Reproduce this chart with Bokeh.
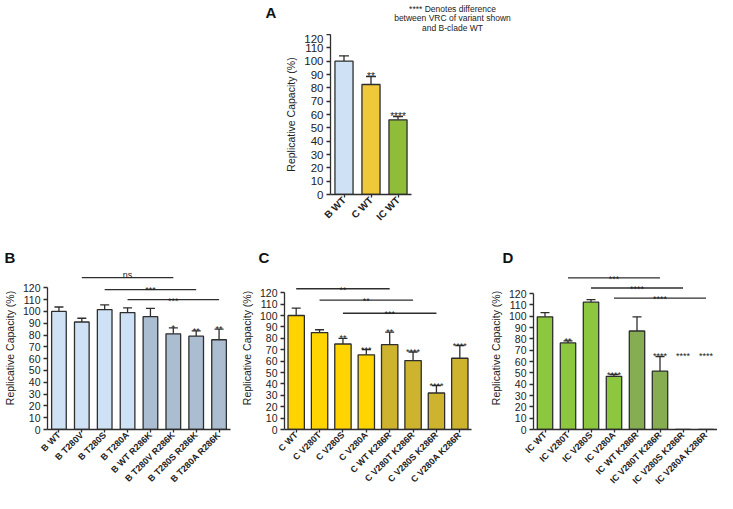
import numpy as np
from bokeh.plotting import figure
from bokeh.models import (ColumnDataSource, FactorRange, Range1d, FixedTicker,
                          Whisker, TeeHead, CanvasTexture)
from bokeh.layouts import column, row
from bokeh.core.properties import value
from bokeh.embed import file_html
from bokeh.resources import INLINE

FONT = "Liberation Sans"

# ---------------- data ----------------
a_cats = ["B WT", "C WT", "IC WT"]
a_vals = [100, 82.5, 56]
a_errs = [4, 6, 2.5]
a_stars = ["", "**", "****"]
a_note = ["**** Denotes difference", "between VRC of variant shown",
          "and B-clade WT"]

b_cats = ["B WT", "B T280V", "B T280S", "B T280A", "B WT R286K",
          "B T280V R286K", "B T280S R286K", "B T280A R286K"]
b_vals = [100, 91, 101.5, 99, 95.5, 81, 79, 76]
b_errs = [3.7, 3.2, 4, 4, 7, 5, 4.5, 9]
b_stars = ["", "", "", "", "", "*", "**", "**"]
b_br_from = [1, 2, 3]
b_br_to = [5, 6, 7]
b_br_y = [128.5, 118.5, 110]
b_br_text = ["ns", "***", "***"]

c_cats = ["C WT", "C V280T", "C V280S", "C V280A", "C WT K286R",
          "C V280T K286R", "C V280S K286R", "C V280A K286R"]
c_vals = [100, 85, 75, 65.5, 74.5, 60.5, 32, 62.5]
c_errs = [6.5, 2.5, 5, 4.5, 11, 7.5, 6.5, 11]
c_stars = ["", "", "**", "***", "**", "****", "****", "****"]
c_br_from = [0, 1, 2]
c_br_to = [4, 5, 6]
c_br_y = [123.5, 113.5, 102]
c_br_text = ["**", "**", "***"]

d_cats = ["IC WT", "IC V280T", "IC V280S", "IC V280A", "IC WT K286R",
          "IC V280T K286R", "IC V280S K286R", "IC V280A K286R"]
d_vals = [99.5, 76.5, 112.5, 47, 87, 51.5, 0, 0]
d_errs = [3.8, 1.8, 2.2, 1.5, 12.5, 13, 0, 0]
d_stars = ["", "**", "", "****", "", "****", "****", "****"]
d_br_from = [1, 2, 3]
d_br_to = [5, 6, 7]
d_br_y = [134, 125, 116]
d_br_text = ["***", "****", "****"]
d_missing_star_level = 64.5

y_ticks = list(range(0, 121, 10))
panel_letters = ["A", "B", "C", "D"]


def checker(base, grey):
    code = ("var s=ctx.canvas.width;var h=s/2;"
            f"ctx.fillStyle='{base}';ctx.fillRect(0,0,s,s);"
            f"ctx.fillStyle='{grey}';ctx.fillRect(0,0,h,h);ctx.fillRect(h,h,h,h);")
    return CanvasTexture(code=code, repetition="repeat")


def blank(w, h):
    p = figure(width=w, height=h, x_range=Range1d(0, w), y_range=Range1d(0, h),
               x_axis_location=None, y_axis_location=None,
               toolbar_location=None, output_backend="svg", min_border=0)
    p.outline_line_color = None
    p.grid.visible = False
    return p


def panel(cats, vals, errs, stars, colors, checks, n_plain, width, height,
          ml, mr, mt, mb, ytop, bar_w, tick_fs, title_fs, xlab_fs, star_fs,
          head, star_y=None, brackets=None, letter=None, letter_dx=0):
    p = figure(x_range=FactorRange(factors=cats), y_range=Range1d(0, ytop),
               width=width, height=height, output_backend="svg",
               toolbar_location=None, min_border_left=ml, min_border_right=mr,
               min_border_top=mt, min_border_bottom=mb)
    if letter is not None:
        p.title.text = letter
        p.title.align = "left"
        p.title.offset = letter_dx
        p.title.standoff = 2
        p.title.text_font = FONT
        p.title.text_font_style = "bold"
        p.title.text_font_size = "15px"
        p.title.text_color = "#111111"
    vals = np.array(vals, dtype=float)
    errs = np.array(errs, dtype=float)
    plain = ColumnDataSource(dict(x=cats[:n_plain], top=vals[:n_plain],
                                  c=colors[:n_plain]))
    p.vbar(x="x", top="top", width=bar_w, source=plain, fill_color="c",
           line_color="#2e2e2e", line_width=1.3)
    if n_plain < len(cats):
        chk = ColumnDataSource(dict(x=cats[n_plain:], top=vals[n_plain:],
                                    c=colors[n_plain:]))
        p.vbar(x="x", top="top", width=bar_w, source=chk, fill_color="c",
               line_color="#2e2e2e", line_width=1.3,
               hatch_pattern=value("checker"),
               hatch_extra={"checker": checker(colors[-1], checks)},
               hatch_scale=4)
    mask = errs > 0
    esrc = ColumnDataSource(dict(base=[c for c, m in zip(cats, mask) if m],
                                 lower=vals[mask], upper=(vals + errs)[mask]))
    p.add_layout(Whisker(base="base", lower="lower", upper="upper",
                         source=esrc, line_color="#2e2e2e", line_width=1.3,
                         lower_head=None,
                         upper_head=TeeHead(size=head, line_color="#2e2e2e",
                                            line_width=1.3)))
    if star_y is None:
        star_y = vals + errs
    ssrc = ColumnDataSource(dict(x=cats, y=star_y, t=stars))
    p.text(x="x", y="y", text="t", source=ssrc, text_align="center",
           text_baseline="alphabetic", text_font=value(FONT),
           text_font_size=f"{star_fs}px", text_color="#222222")
    if brackets is not None:
        bf, bt, by, btx = brackets
        p.segment(x0=[cats[i] for i in bf], x1=[cats[i] for i in bt],
                  y0=by, y1=by, line_color="#2e2e2e", line_width=1.3)
        tx = [(i + j) / 2 + 0.5 for i, j in zip(bf, bt)]
        ty = [y + (2.0 if t == "ns" else -0.8) for y, t in zip(by, btx)]
        p.text(x=tx, y=ty, text=btx, text_align="center",
               text_baseline="alphabetic", text_font=value(FONT),
               text_font_size=f"{star_fs}px", text_color="#222222")
    p.xgrid.visible = False
    p.ygrid.visible = False
    p.outline_line_color = None
    ya = p.yaxis[0]
    ya.bounds = (0, 120)
    ya.ticker = FixedTicker(ticks=y_ticks)
    ya.axis_label = "Replicative Capacity (%)"
    ya.axis_label_text_font = FONT
    ya.axis_label_text_font_style = "normal"
    ya.axis_label_text_font_size = f"{title_fs}px"
    ya.axis_label_text_color = "#222222"
    ya.axis_label_standoff = 4
    ya.major_label_text_font = FONT
    ya.major_label_text_font_size = f"{tick_fs}px"
    ya.major_label_text_color = "#222222"
    ya.major_label_standoff = 3
    ya.major_tick_in = 0
    ya.major_tick_out = 4
    ya.minor_tick_out = 0
    ya.minor_tick_in = 0
    ya.axis_line_width = 1.3
    ya.axis_line_color = "#2e2e2e"
    ya.major_tick_line_color = "#2e2e2e"
    ya.major_tick_line_width = 1.3
    xa = p.xaxis[0]
    xa.major_label_orientation = np.pi / 4
    xa.major_label_text_font = FONT
    xa.major_label_text_font_style = "bold"
    xa.major_label_text_font_size = f"{xlab_fs}px"
    xa.major_label_text_line_height = 0.9
    xa.major_label_text_color = "#222222"
    xa.major_label_standoff = 1
    xa.major_tick_in = 0
    xa.major_tick_out = 3
    xa.axis_line_width = 1.3
    xa.axis_line_color = "#2e2e2e"
    xa.major_tick_line_color = "#2e2e2e"
    xa.major_tick_line_width = 1.3
    return p


W = 717
# ---- header (panel letter A + note) ----
header = blank(W, 34)
header.text(x=[265], y=[22], text=[panel_letters[0]], text_font=value(FONT),
            text_font_style="bold", text_font_size="15px",
            text_baseline="alphabetic", text_color="#111111")
header.text(x=[452] * 3, y=[26, 16.5, 7], text=a_note, text_align="center",
            text_baseline="alphabetic", text_font=value(FONT),
            text_font_size="8.5px", text_color="#222222")

# ---- panel A ----
pa = panel(a_cats, a_vals, a_errs, a_stars,
           ["#cfe2f5", "#efc93a", "#8fbd3a"], None, 3,
           width=W, height=211, ml=330, mr=306, mt=0, mb=51, ytop=120,
           bar_w=0.67, tick_fs=11.5, title_fs=10.5, xlab_fs=10, star_fs=10,
           head=10)

H = 248
MB = 64
pb = panel(b_cats, b_vals, b_errs, b_stars, ["#cfe2f5"] * 8, "#7d8ea3", 4,
           width=237, height=H, ml=42, mr=7, mt=0, mb=MB,
           ytop=138, bar_w=0.64, tick_fs=10.5, title_fs=10.5,
           xlab_fs=9, star_fs=9, head=9,
           brackets=(b_br_from, b_br_to, b_br_y, b_br_text),
           letter=panel_letters[1], letter_dx=-43)

pc = panel(c_cats, c_vals, c_errs, c_stars, ["#ffd400"] * 8, "#8d8a6e", 4,
           width=247, height=H, ml=43, mr=13, mt=0, mb=MB,
           ytop=143, bar_w=0.7, tick_fs=10.5, title_fs=10.5,
           xlab_fs=9, star_fs=9, head=9,
           brackets=(c_br_from, c_br_to, c_br_y, c_br_text),
           letter=panel_letters[2], letter_dx=-26)

d_vals_arr = np.array(d_vals, dtype=float)
d_errs_arr = np.array(d_errs, dtype=float)
d_star_y = np.where(d_vals_arr > 0, d_vals_arr + d_errs_arr, d_missing_star_level)
pd_ = panel(d_cats, d_vals, d_errs, d_stars, ["#8dc63f"] * 8, "#7f8c6c", 4,
            width=233, height=H, ml=49, mr=0, mt=0, mb=MB,
            ytop=144, bar_w=0.67, tick_fs=10.5, title_fs=10.5,
            xlab_fs=9, star_fs=9, head=9, star_y=d_star_y,
            brackets=(d_br_from, d_br_to, d_br_y, d_br_text),
            letter=panel_letters[3], letter_dx=-31)

layout = column(row(header), row(pa), row(pb, pc, pd_))

with open("out.html", "w") as f:
    f.write(file_html(layout, INLINE))
